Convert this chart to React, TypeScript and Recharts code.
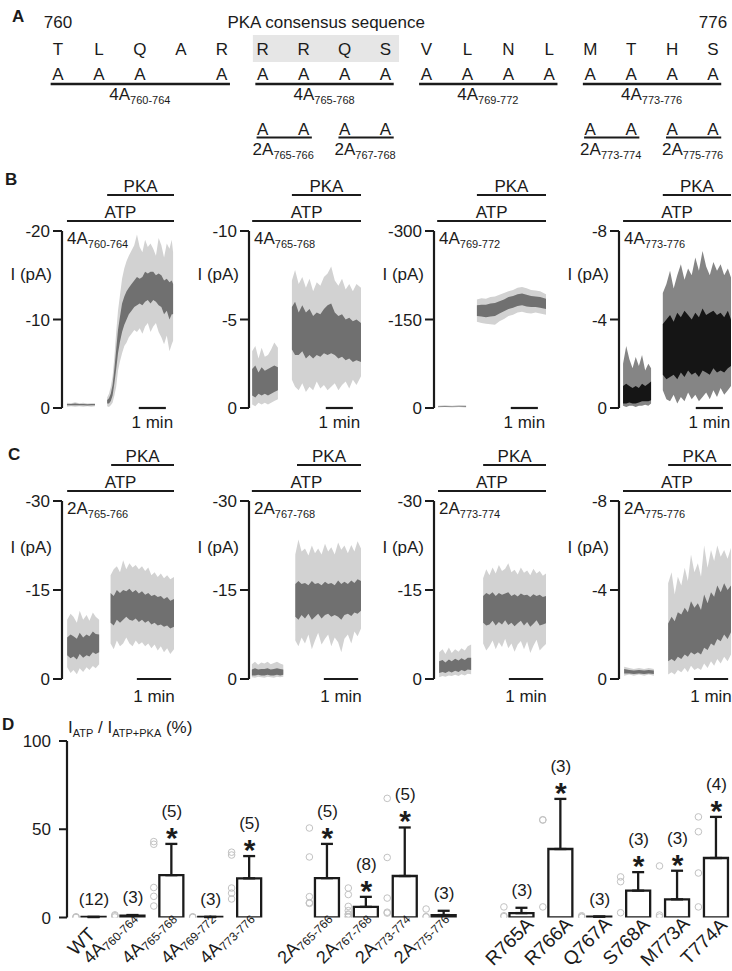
import React from 'react'
import {
  ComposedChart, Area, Bar, ErrorBar, Scatter, XAxis, YAxis, ReferenceLine, ReferenceArea,
} from 'recharts'

const FONT = '"Liberation Sans", Arial, Helvetica, sans-serif'
const INK = '#1b1b1b'

// ---------- A: sequence 760-776 ----------
const residues = [760, 761, 762, 763, 764, 765, 766, 767, 768, 769, 770, 771, 772, 773, 774, 775, 776]
const wildType = ['T', 'L', 'Q', 'A', 'R', 'R', 'R', 'Q', 'S', 'V', 'L', 'N', 'L', 'M', 'T', 'H', 'S']
const consensus = [765, 768]
const fourAlaBlocks = [[760, 764], [765, 768], [769, 772], [773, 776]]
const twoAlaBlocks = [[765, 766], [767, 768], [773, 774], [775, 776]]

// ---------- B / C: current traces ----------
// [time (s), outer min, outer max, core min, core max]  magnitude of inward current, pA
const b1Atp = [[11, 0.15, 0.6, 0.3, 0.45], [20, 0.2, 0.55, 0.3, 0.45], [29, 0.15, 0.65, 0.3, 0.5], [38, 0.2, 0.55, 0.3, 0.45], [47, 0.15, 0.6, 0.3, 0.45], [56, 0.2, 0.5, 0.28, 0.42], [65, 0.15, 0.55, 0.3, 0.45], [73, 0.2, 0.55, 0.3, 0.45]]
const b1Pka = [[100, 0.2, 1.2, 0.5, 0.9], [104, 0.1, 1.6, 0.5, 1.1], [108, 0.3, 2.4, 0.8, 1.6], [112, 0.6, 3.6, 1.4, 2.6], [116, 1.4, 5.8, 2.8, 4.4], [120, 2.4, 8.6, 4.4, 6.6], [124, 4.2, 11, 6.2, 8.8], [128, 5.2, 12.6, 7.4, 10.2], [133, 6.2, 14.6, 8.6, 11.8], [138, 7, 15.8, 9.4, 12.6], [143, 7.4, 16.6, 10, 13.2], [148, 8, 17.2, 10.6, 13.6], [154, 8.4, 17.8, 11, 14], [160, 8.8, 18.4, 11.4, 14.4], [166, 8.6, 19.6, 11.6, 14.8], [172, 9, 18.2, 11.8, 14.6], [178, 8.4, 17.6, 11.6, 14.8], [184, 9.2, 19, 12, 15.4], [190, 9.6, 18.2, 12.2, 15.2], [196, 8.6, 18.6, 11.8, 15.4], [202, 9.2, 18, 12.2, 15.4], [208, 9.6, 17.2, 12, 15], [214, 8.6, 19.2, 11.6, 15.2], [220, 8, 18.4, 11.4, 15], [226, 7.2, 17, 10.6, 14.4], [232, 8.2, 18.6, 11, 14.6], [238, 6.4, 18, 10, 14.2], [243, 7.2, 19, 10.6, 14.4], [246, 7.6, 17.6, 10.6, 14]]

const b2Atp = [[7, 0.2, 3.2, 0.7, 2.2], [14, 0.1, 3.5, 0.6, 2.4], [21, 0.3, 2.8, 0.8, 2.0], [28, 0.2, 3.4, 0.7, 2.3], [35, 0.3, 2.9, 0.8, 2.1], [42, 0.2, 3.0, 0.7, 2.2], [49, 0.3, 3.3, 0.8, 2.3], [56, 0.4, 3.7, 0.9, 2.4], [64, 0.5, 3.4, 1.0, 2.3]]
const b2Pka = [[95, 1.6, 7.2, 3.3, 5.7], [102, 1.2, 7.8, 3.0, 6.0], [110, 1.0, 7.0, 3.0, 5.4], [118, 1.4, 7.4, 3.2, 5.8], [126, 0.9, 6.8, 2.8, 5.4], [134, 1.2, 7.3, 3.0, 5.6], [142, 1.0, 6.6, 2.8, 5.2], [150, 1.5, 7.1, 3.0, 5.4], [158, 1.1, 6.9, 2.9, 5.3], [166, 1.3, 7.4, 3.1, 5.6], [174, 1.0, 7.6, 3.0, 5.8], [182, 1.2, 8.0, 3.1, 5.9], [190, 1.4, 7.2, 3.0, 5.4], [198, 1.0, 6.9, 2.8, 5.2], [206, 1.3, 7.3, 2.9, 5.3], [214, 1.5, 6.7, 2.7, 5.0], [222, 1.1, 7.0, 2.8, 5.1], [230, 1.6, 6.6, 2.6, 4.9], [238, 1.3, 7.0, 2.7, 5.0], [248, 1.8, 6.8, 2.6, 4.8]]

const b3Atp = [[9, 1, 4, 2, 3], [24, 1.5, 4.5, 2.2, 3.4], [40, 1, 4, 2, 3], [55, 1.5, 5, 2.4, 3.6], [71, 1, 4.5, 2, 3.4]]
const b3Pka = [[95, 146, 184, 156, 174], [105, 144, 186, 155, 175], [115, 143, 185, 154, 175], [125, 142, 188, 155, 177], [135, 141, 189, 156, 178], [145, 147, 192, 160, 181], [155, 151, 195, 164, 184], [165, 156, 198, 168, 188], [175, 158, 200, 170, 190], [185, 162, 204, 173, 193], [195, 163, 205, 174, 194], [205, 161, 203, 172, 192], [215, 160, 200, 171, 190], [225, 162, 199, 171, 189], [235, 160, 198, 170, 188], [248, 158, 193, 168, 185]]

const b4Atp = [[9, 0.1, 2.0, 0.2, 1.0], [16, 0.05, 2.8, 0.2, 1.1], [23, 0.1, 2.2, 0.25, 1.0], [30, 0.1, 1.8, 0.2, 0.9], [37, 0.05, 2.3, 0.2, 1.0], [44, 0.1, 1.9, 0.25, 0.9], [51, 0.1, 2.4, 0.3, 1.1], [58, 0.15, 1.7, 0.3, 1.0], [65, 0.1, 2.0, 0.3, 1.1], [71, 0.2, 1.8, 0.35, 1.2]]
const b4Pka = [[97, 0.8, 5.2, 1.5, 3.8], [105, 0.4, 5.6, 1.3, 4.0], [113, 0.3, 6.2, 1.4, 4.2], [121, 0.6, 5.4, 1.5, 3.9], [129, 0.2, 6.0, 1.3, 4.3], [137, 0.5, 6.5, 1.6, 4.1], [145, 0.3, 5.8, 1.4, 4.4], [153, 0.7, 6.3, 1.7, 4.2], [161, 0.4, 6.0, 1.5, 4.0], [169, 0.6, 6.8, 1.6, 4.3], [177, 0.3, 6.2, 1.4, 4.1], [185, 0.5, 7.1, 1.7, 4.5], [193, 0.7, 6.4, 1.6, 4.2], [201, 0.4, 6.0, 1.5, 4.3], [209, 0.8, 6.6, 1.8, 4.4], [217, 0.5, 6.2, 1.6, 4.2], [225, 0.9, 6.5, 1.7, 4.3], [233, 0.6, 6.0, 1.6, 4.1], [241, 0.8, 6.3, 1.8, 4.4], [248, 1.0, 5.9, 1.9, 4.0]]

const c1Atp = [[9, 2.0, 10.0, 4.0, 7.0], [15, 1.0, 11.0, 3.5, 7.5], [20, 1.5, 10.5, 3.8, 7.2], [26, 0.8, 9.5, 3.3, 6.8], [31, 1.8, 11.5, 4.2, 7.8], [37, 1.2, 10.0, 3.6, 7.0], [43, 2.0, 10.8, 4.0, 7.5], [48, 1.5, 9.8, 3.8, 7.2], [54, 2.2, 11.2, 4.5, 8.0], [59, 1.8, 10.5, 4.2, 7.6], [65, 2.5, 10.0, 4.5, 7.5]]
const c1Pka = [[85, 6.0, 17.5, 9.5, 14.5], [90.5, 5.0, 18.5, 9.0, 14.0], [96, 6.5, 19.0, 10.0, 15.0], [101.5, 5.5, 18.0, 9.5, 14.5], [107, 6.0, 20.0, 10.0, 15.0], [112.5, 7.0, 18.5, 10.5, 14.8], [118, 6.0, 19.5, 10.0, 15.2], [123.5, 5.5, 18.8, 9.8, 14.6], [129, 6.5, 19.2, 10.2, 15.0], [134.5, 5.8, 18.5, 9.6, 14.4], [140, 6.2, 19.0, 10.0, 14.8], [145.5, 5.5, 18.2, 9.5, 14.2], [151, 6.0, 18.8, 9.8, 14.5], [156.5, 5.2, 17.5, 9.2, 14.0], [162, 5.8, 18.0, 9.5, 14.2], [167.5, 4.8, 17.2, 9.0, 13.8], [173, 5.5, 17.8, 9.2, 14.0], [178.5, 4.5, 17.0, 8.8, 13.5], [184, 5.2, 17.5, 9.0, 13.8], [189.5, 4.2, 16.8, 8.5, 13.2], [196, 5.0, 17.2, 8.8, 13.5]]

const c2Atp = [[5, 0.3, 2.5, 0.6, 1.6], [10.5, 0.2, 2.9, 0.6, 1.8], [16, 0.4, 2.4, 0.7, 1.6], [21.5, 0.3, 2.8, 0.6, 1.7], [27, 0.2, 2.6, 0.6, 1.7], [32.5, 0.4, 2.9, 0.7, 1.8], [38, 0.3, 2.5, 0.6, 1.6], [43.5, 0.2, 2.7, 0.6, 1.7], [49, 0.4, 2.9, 0.7, 1.8], [54.5, 0.3, 2.6, 0.6, 1.7], [60, 0.4, 2.4, 0.7, 1.6]]
const c2Pka = [[81, 6.5, 21.0, 10.5, 16.0], [86.5, 5.5, 23.5, 10.0, 16.5], [92, 7.0, 21.5, 10.8, 16.0], [98, 6.0, 22.0, 10.2, 16.2], [104, 7.5, 20.8, 11.0, 15.8], [110, 5.0, 22.5, 10.0, 16.5], [115.5, 6.5, 21.2, 10.5, 16.0], [121, 7.8, 22.0, 11.0, 16.2], [127, 5.8, 21.0, 10.2, 15.8], [133, 6.8, 22.8, 10.8, 16.4], [138.5, 7.5, 21.5, 11.0, 16.0], [144, 5.5, 22.2, 10.5, 16.2], [150, 7.0, 21.0, 10.8, 15.8], [156, 6.2, 23.0, 10.5, 16.6], [161.5, 4.5, 21.8, 10.0, 16.0], [167, 6.8, 22.5, 10.8, 16.4], [173, 7.5, 21.2, 11.0, 16.0], [179, 6.0, 22.6, 10.6, 16.6], [184.5, 8.0, 21.5, 11.2, 16.2], [190, 7.2, 23.2, 11.0, 16.8], [196, 8.5, 22.0, 11.5, 16.5]]

const c3Atp = [[9, 0.3, 4.5, 1.0, 3.0], [15, 0.5, 5.0, 1.2, 3.2], [20, 0.4, 4.2, 1.0, 2.8], [26, 0.6, 5.3, 1.3, 3.3], [31, 0.5, 4.4, 1.1, 3.0], [37, 0.7, 5.0, 1.4, 3.4], [43, 0.5, 4.6, 1.2, 3.1], [48, 0.8, 5.2, 1.5, 3.5], [54, 0.6, 4.8, 1.3, 3.2], [59, 0.9, 5.5, 1.6, 3.6], [65, 0.8, 5.8, 1.5, 3.6]]
const c3Pka = [[86, 6.0, 17.0, 9.5, 14.0], [91.5, 4.8, 18.5, 9.0, 14.5], [97, 5.5, 17.5, 9.2, 14.2], [102.5, 6.5, 18.8, 9.8, 14.6], [108, 5.0, 17.8, 9.0, 14.0], [113.5, 6.2, 19.2, 9.6, 14.5], [119, 5.4, 18.2, 9.2, 14.2], [124.5, 6.8, 18.6, 9.9, 14.4], [130, 5.2, 19.5, 9.1, 14.6], [135.5, 6.0, 18.0, 9.5, 14.0], [141, 4.6, 18.4, 8.9, 14.3], [146.5, 5.8, 17.6, 9.4, 13.9], [152, 6.4, 18.8, 9.8, 14.4], [157.5, 5.0, 17.9, 9.0, 14.1], [163, 6.3, 18.3, 9.6, 14.2], [168.5, 4.4, 17.5, 8.8, 13.8], [174, 5.6, 18.6, 9.3, 14.3], [179.5, 6.6, 17.8, 9.9, 14.0], [185, 4.8, 18.2, 9.0, 14.2], [190.5, 5.4, 17.4, 9.2, 13.8], [196, 5.9, 17.8, 9.4, 14.0]]

const c4Atp = [[9, 0.15, 0.55, 0.25, 0.45], [18, 0.2, 0.5, 0.25, 0.4], [26, 0.15, 0.45, 0.22, 0.38], [35, 0.2, 0.5, 0.25, 0.4], [44, 0.15, 0.45, 0.22, 0.38], [52, 0.2, 0.5, 0.25, 0.4], [61, 0.15, 0.45, 0.22, 0.38]]
const c4Pka = [[86, 0.2, 4.3, 0.8, 2.5], [92, 0.3, 4.8, 0.9, 2.8], [97.5, 0.2, 3.8, 0.8, 2.6], [103, 0.4, 4.6, 1.0, 3.0], [109, 0.3, 4.2, 0.9, 2.9], [115, 0.5, 5.0, 1.1, 3.2], [120.5, 0.3, 4.4, 1.0, 3.0], [126, 0.6, 5.6, 1.2, 3.5], [132, 0.4, 4.8, 1.1, 3.2], [138, 0.5, 5.2, 1.2, 3.4], [143.5, 0.4, 4.6, 1.1, 3.1], [149, 0.7, 6.0, 1.4, 3.8], [155, 0.5, 5.0, 1.3, 3.4], [161, 0.8, 5.8, 1.6, 3.9], [166.5, 0.6, 5.3, 1.5, 3.7], [172, 0.9, 6.0, 1.8, 4.2], [178, 0.7, 5.5, 1.7, 3.9], [184, 1.0, 5.8, 2.0, 4.3], [190, 0.8, 5.4, 1.8, 4.0], [196, 1.1, 5.9, 2.1, 4.2]]

const rowB = [
  { main: '4A', sub: '760-764', yMin: -20, atpOn: 11, pkaOn: 100, atp: b1Atp, pka: b1Pka },
  { main: '4A', sub: '765-768', yMin: -10, atpOn: 7, pkaOn: 95, atp: b2Atp, pka: b2Pka },
  { main: '4A', sub: '769-772', yMin: -300, atpOn: 7, pkaOn: 95, atp: b3Atp, pka: b3Pka },
  { main: '4A', sub: '773-776', yMin: -8, atpOn: 9, pkaOn: 97, atp: b4Atp, pka: b4Pka, dark: true },
]
const rowC = [
  { main: '2A', sub: '765-766', yMin: -30, atpOn: 9, pkaOn: 86, atp: c1Atp, pka: c1Pka },
  { main: '2A', sub: '767-768', yMin: -30, atpOn: 5, pkaOn: 84, atp: c2Atp, pka: c2Pka },
  { main: '2A', sub: '773-774', yMin: -30, atpOn: 7, pkaOn: 86, atp: c3Atp, pka: c3Pka },
  { main: '2A', sub: '775-776', yMin: -8, atpOn: 7, pkaOn: 86, atp: c4Atp, pka: c4Pka },
]

// ---------- D: I_ATP / I_ATP+PKA ----------
const mutantMain = ['WT', '4A', '4A', '4A', '4A', '2A', '2A', '2A', '2A', 'R765A', 'R766A', 'Q767A', 'S768A', 'M773A', 'T774A']
const mutantSub = ['', '760-764', '765-768', '769-772', '773-776', '765-766', '767-768', '773-774', '775-776', '', '', '', '', '', '']
const groupSizes = [5, 4, 6]
const ratioMean = [0.3, 1.0, 24, 0.3, 22.2, 22.3, 6, 23.5, 1.4, 2.5, 38.8, 0.5, 15.2, 10.3, 33.7]
const ratioSd = [0, 0.4, 17.7, 0, 12.6, 19.4, 5.7, 27.5, 2.4, 3.0, 28.4, 0, 10.5, 16.2, 23.3]
const cellCount = [12, 3, 5, 3, 5, 5, 8, 5, 3, 3, 3, 3, 3, 3, 4]
const significant = [false, false, true, false, true, true, true, true, false, false, true, false, true, true, true]
const cellValues = [
  [0, 0.2, 0.4], [1.5, 0.3, 1.0], [43, 41.5, 17, 12, 6.5], [0.2, 0.4, 0.1], [37, 35.4, 16.7, 13.8, 10.5],
  [50.7, 34.3, 11.8, 8.4, 8], [16.7, 13, 6.3, 3.9, 1.6, 0.2, 0.5, 2], [67.5, 34, 11, 3, 2.5], [4.8, 0.5, 0.3],
  [6, 0.5, 1], [55.2, 55.4, 6], [1, 0.4, 0.2], [23, 20.3, 2.7], [29.2, 1.4, 0.3], [57, 48.6, 25.2, 6],
]

// ---------- layout ----------
const COL_X = [62, 249, 434, 619]
const YW = 60
const PW = 112
const MT = 53
const MB = 30
const B_ROW = { top: 231, h: 177, tMax: 248, bar: [170, 230], minOff: 8, pLab: 49 }
const C_ROW = { top: 501, h: 178, tMax: 196, bar: [131, 191], minOff: 11, pLab: 52 }

function buildTrace(atp: number[][], pka: number[][]) {
  const row = (p: number[]) => ({ t: p[0], outer: [-p[2], -p[1]], inner: [-p[4], -p[3]] })
  const gap = (atp[atp.length - 1][0] + pka[0][0]) / 2
  return [...atp.map(row), { t: gap, outer: null, inner: null }, ...pka.map(row)]
}

function TracePanel({ p, axisX, row }: any) {
  const data = buildTrace(p.atp, p.pka)
  const above = (px: number) => p.yMin * (1 + px / row.h)
  const yAtp = above(10)
  const yPka = above(36)
  const line = { stroke: INK, strokeWidth: 2.2, ifOverflow: 'visible' as const }
  return (
    <div style={{ position: 'absolute', left: axisX - YW, top: row.top - MT }}>
      <ComposedChart width={YW + PW + 2} height={MT + row.h + MB} data={data}
        margin={{ top: MT, right: 2, bottom: MB, left: 0 }}>
        <XAxis type="number" dataKey="t" domain={[0, row.tMax]} hide allowDataOverflow />
        <YAxis type="number" domain={[p.yMin, 0]} reversed allowDataOverflow width={YW}
          ticks={[p.yMin, p.yMin / 2, 0]} interval={0}
          axisLine={{ stroke: INK, strokeWidth: 2.2 }} tickLine={{ stroke: INK, strokeWidth: 2 }}
          tickSize={9} tickMargin={3} tick={{ fill: INK, fontSize: 17 }} />
        <Area type="linear" dataKey="outer" stroke="none" fill={p.dark ? '#858585' : '#d2d2d2'} fillOpacity={1}
          dot={false} activeDot={false} connectNulls={false} isAnimationActive={false} />
        <Area type="linear" dataKey="inner" stroke="none" fill={p.dark ? '#151515' : '#707070'} fillOpacity={1}
          dot={false} activeDot={false} connectNulls={false} isAnimationActive={false} />
        <ReferenceLine segment={[{ x: p.atpOn, y: yAtp }, { x: row.tMax, y: yAtp }]} {...line}
          label={{ value: 'ATP', position: 'top', offset: 3, fill: INK, fontSize: 17 }} />
        <ReferenceLine segment={[{ x: p.pkaOn, y: yPka }, { x: row.tMax, y: yPka }]} {...line}
          label={{ value: 'PKA', position: 'top', offset: 3, fill: INK, fontSize: 17 }} />
        <ReferenceLine segment={[{ x: row.bar[0], y: 0 }, { x: row.bar[1], y: 0 }]} {...line}
          label={{ value: '1 min', position: 'bottom', offset: row.minOff, fill: INK, fontSize: 17 }} />
      </ComposedChart>
    </div>
  )
}

// ---------- A ----------
const A_ROW = { head: 28, seq: 55, ala1: 80, line1: 84, lab1: 100, ala2: 134.5, line2: 137.5, lab2: 155 }

const SeqText = (p: any) => (
  <text x={p.cx} y={p.cy} textAnchor="middle" fontSize={17} fill={INK}>{p.payload.ch}</text>
)
const BlockText = (p: any) => (
  <text x={p.cx} y={p.cy} textAnchor="middle" fontSize={17} fill={INK}>
    {p.payload.main}<tspan fontSize={11} dy={4}>{p.payload.sub}</tspan>
  </text>
)

function SequencePanel() {
  const seq = residues.map((res, i) => ({ res, y: A_ROW.seq, ch: wildType[i] }))
  const head = [
    { res: residues[0], y: A_ROW.head, ch: String(residues[0]) },
    { res: (consensus[0] + consensus[1]) / 2 + 0.05, y: A_ROW.head, ch: 'PKA consensus sequence' },
    { res: residues[residues.length - 1], y: A_ROW.head, ch: String(residues[residues.length - 1]) },
  ]
  const ala1 = fourAlaBlocks.flatMap(([a, b]) => residues.filter((r, i) => r >= a && r <= b && wildType[i] !== 'A'))
    .map(res => ({ res, y: A_ROW.ala1, ch: 'A' }))
  const ala2 = twoAlaBlocks.flatMap(([a, b]) => residues.filter(r => r >= a && r <= b))
    .map(res => ({ res, y: A_ROW.ala2, ch: 'A' }))
  const lab1 = fourAlaBlocks.map(([a, b]) => ({ res: (a + b) / 2, y: A_ROW.lab1, main: '4A', sub: `${a}-${b}` }))
  const lab2 = twoAlaBlocks.map(([a, b]) => ({ res: (a + b) / 2, y: A_ROW.lab2, main: '2A', sub: `${a}-${b}` }))
  return (
    <div style={{ position: 'absolute', left: 0, top: 0 }}>
      <ComposedChart width={732} height={165} margin={{ top: 0, right: 0, bottom: 0, left: 0 }}>
        <XAxis type="number" dataKey="res" domain={[758.583, 776.463]} hide allowDataOverflow />
        <YAxis type="number" domain={[0, 165]} reversed hide allowDataOverflow />
        <ReferenceArea x1={consensus[0] - 0.24} x2={consensus[1] + 0.33} y1={35} y2={62}
          fill="#e6e6e6" fillOpacity={1} stroke="none" />
        {fourAlaBlocks.map(([a, b]) => (
          <ReferenceLine key={`f${a}`} segment={[{ x: a - 0.18, y: A_ROW.line1 }, { x: b + 0.2, y: A_ROW.line1 }]}
            stroke={INK} strokeWidth={2.4} />
        ))}
        {twoAlaBlocks.map(([a, b]) => (
          <ReferenceLine key={`t${a}`} segment={[{ x: a - 0.15, y: A_ROW.line2 }, { x: b + 0.2, y: A_ROW.line2 }]}
            stroke={INK} strokeWidth={2.2} />
        ))}
        <Scatter data={head} dataKey="y" shape={SeqText} isAnimationActive={false} />
        <Scatter data={seq} dataKey="y" shape={SeqText} isAnimationActive={false} />
        <Scatter data={ala1} dataKey="y" shape={SeqText} isAnimationActive={false} />
        <Scatter data={ala2} dataKey="y" shape={SeqText} isAnimationActive={false} />
        <Scatter data={lab1} dataKey="y" shape={BlockText} isAnimationActive={false} />
        <Scatter data={lab2} dataKey="y" shape={BlockText} isAnimationActive={false} />
      </ComposedChart>
    </div>
  )
}

// ---------- D ----------
const D_TOP = 711
const D_MT = 30
const D_PH = 176.5

const barRows = (() => {
  const rows: any[] = []
  let i = 0
  groupSizes.forEach((size, g) => {
    for (let k = 0; k < size; k++, i++) {
      rows.push({
        pos: i + g, main: mutantMain[i], sub: mutantSub[i], mean: ratioMean[i],
        err: [0, ratioSd[i]], top: ratioMean[i] + ratioSd[i], n: cellCount[i], sig: significant[i],
      })
    }
  })
  return rows
})()
const dotRows = barRows.flatMap((r, i) => cellValues[i].map(v => ({ pos: r.pos, v })))

const DotShape = (p: any) => (
  <circle cx={p.cx - 18} cy={p.cy} r={3.3} fill="none" stroke="#c2c2c2" strokeWidth={1} />
)
const MarkShape = (p: any) => {
  const d = p.payload
  return (
    <g>
      {d.sig && (
        <text x={p.cx} y={p.cy - 12 + 16} textAnchor="middle" fontSize={30} fontWeight="bold" fill={INK}>*</text>
      )}
      <text x={p.cx} y={p.cy - (d.sig ? 32 : 17) + 5} textAnchor="middle" fontSize={17} fill={INK}>({d.n})</text>
    </g>
  )
}
const XTick = (p: any) => {
  const r = barRows.find(b => b.pos === p.payload.value)
  if (!r) return null
  // anchor in page y, converted to the chart's own coordinates
  const ax = r.sub ? p.x + 4 : p.x - 8
  const ay = r.sub ? 918 - D_TOP : 946 - D_TOP
  return (
    <text x={ax} y={ay} textAnchor={r.sub ? 'end' : 'middle'} transform={`rotate(-45 ${ax} ${ay})`}
      fontSize={r.sub ? 18 : 19} fill={INK}>
      {r.main}{r.sub ? <tspan fontSize={12} dy={3}>{r.sub}</tspan> : null}
    </text>
  )
}

function SummaryPanel() {
  return (
    <div style={{ position: 'absolute', left: 0, top: D_TOP }}>
      <ComposedChart width={732} height={D_MT + D_PH + 53.5} data={barRows}
        margin={{ top: D_MT, right: 1, bottom: 0, left: 0 }}>
        <XAxis type="number" dataKey="pos" domain={[-0.694, 16.375]} allowDataOverflow
          ticks={barRows.map(r => r.pos)} interval={0} axisLine={false} tickLine={false}
          height={53.5} tick={XTick} />
        <YAxis type="number" domain={[0, 100]} ticks={[0, 50, 100]} interval={0} width={67} allowDataOverflow
          axisLine={{ stroke: INK, strokeWidth: 2.2 }} tickLine={{ stroke: INK, strokeWidth: 2 }}
          tickSize={8} tickMargin={8} tick={{ fill: INK, fontSize: 17 }} />
        <Scatter data={dotRows} dataKey="v" shape={DotShape} isAnimationActive={false} />
        <Bar dataKey="mean" barSize={24} fill="#ffffff" stroke={INK} strokeWidth={2.3} isAnimationActive={false}>
          <ErrorBar dataKey="err" width={6} strokeWidth={2.3} stroke={INK} direction="y" />
        </Bar>
        <Scatter dataKey="top" shape={MarkShape} isAnimationActive={false} />
      </ComposedChart>
    </div>
  )
}

// ---------- overlay text ----------
function Overlay() {
  const traceLabels = (row: any, panels: any[]) => panels.map((p, i) => (
    <g key={`${row.top}-${i}`}>
      <text x={COL_X[i] + 5} y={row.top + 13} fontSize={17} fill={INK}>
        {p.main}<tspan fontSize={11} dy={4}>{p.sub}</tspan>
      </text>
      <text x={COL_X[i] - 10} y={row.top + row.pLab} fontSize={17} fill={INK} textAnchor="end">I (pA)</text>
    </g>
  ))
  return (
    <svg width={732} height={971} style={{ position: 'absolute', left: 0, top: 0, pointerEvents: 'none' }}
      fontFamily={FONT}>
      <text x={12} y={22} fontSize={17} fontWeight="bold" fill={INK}>A</text>
      <text x={5} y={185} fontSize={17} fontWeight="bold" fill={INK}>B</text>
      <text x={8} y={460} fontSize={17} fontWeight="bold" fill={INK}>C</text>
      <text x={2} y={730} fontSize={17} fontWeight="bold" fill={INK}>D</text>
      {traceLabels(B_ROW, rowB)}
      {traceLabels(C_ROW, rowC)}
      <text x={68} y={733} fontSize={17} fill={INK}>
        I<tspan fontSize={11} dy={4}>ATP</tspan><tspan dy={-4}> / I</tspan>
        <tspan fontSize={11} dy={4}>ATP+PKA</tspan><tspan dy={-4}> (%)</tspan>
      </text>
    </svg>
  )
}

export default function App() {
  return (
    <div style={{
      position: 'absolute', left: 0, top: 0, width: 732, height: 971, overflow: 'hidden',
      background: '#fff', fontFamily: FONT, color: INK,
    }}>
      <SequencePanel />
      {rowB.map((p, i) => <TracePanel key={`b${i}`} p={p} axisX={COL_X[i]} row={B_ROW} />)}
      {rowC.map((p, i) => <TracePanel key={`c${i}`} p={p} axisX={COL_X[i]} row={C_ROW} />)}
      <SummaryPanel />
      <Overlay />
    </div>
  )
}
